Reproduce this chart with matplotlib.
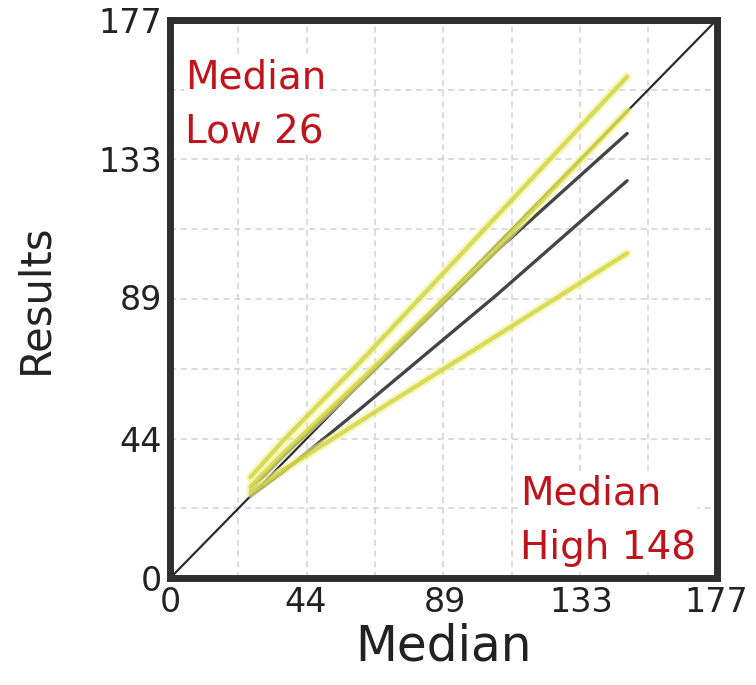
import numpy as np
import matplotlib.pyplot as plt

# x positions of the sampled points (shared by all series)
x_pts = [26, 37, 62, 106, 148]

# yellow series
yellow_1 = [32, 44, 69, 115, 159]
yellow_2 = [29, 40, 63, 105, 148]
yellow_3 = [27, 34.5, 50, 77, 103]

# dark series
dark_1 = [28, 39, 62, 104, 141]
dark_2 = [26, 34, 54, 90, 126]

ticks = [0, 44, 89, 133, 177]
lim = 177

fig = plt.figure(figsize=(7.56, 6.85), dpi=100)
ax = fig.add_axes([0.225, 0.156, 0.723, 0.815])

# grid every eighth of the range
grid_pos = np.linspace(0, lim, 9)
for g in grid_pos[1:-1]:
    ax.axvline(g, color='#d2d2d2', lw=1.1, ls=(0, (4, 3)), zorder=0)
    ax.axhline(g, color='#d2d2d2', lw=1.1, ls=(0, (4, 3)), zorder=0)

# identity line
ax.plot([0, lim], [0, lim], color='#2b2b2b', lw=1.6, zorder=2)

for ys in [dark_1, dark_2]:
    ax.plot(x_pts, ys, color='#454545', lw=2.4, solid_capstyle='round', zorder=3)

for ys in [yellow_1, yellow_2, yellow_3]:
    ax.plot(x_pts, ys, color='#f2f29a', lw=6.5, alpha=0.6, solid_capstyle='round', zorder=4)
    ax.plot(x_pts, ys, color='#cfd43c', lw=3, alpha=0.8, solid_capstyle='round', zorder=5)

ax.set_xlim(0, lim)
ax.set_ylim(0, lim)
ax.set_xticks(ticks)
ax.set_yticks(ticks)
ax.tick_params(length=0, labelsize=24, pad=6, colors='#222222')

for s in ax.spines.values():
    s.set_linewidth(5)
    s.set_color('#2e2e2e')

ax.set_xlabel('Median', fontsize=35, color='#222222', labelpad=2)
ax.set_ylabel('Results', fontsize=30, color='#222222', labelpad=30)

red = '#c0141c'
ax.text(0.028, 0.93, 'Median\nLow 26', transform=ax.transAxes, ha='left', va='top',
        fontsize=28, color=red, linespacing=1.55,
        bbox=dict(facecolor='white', edgecolor='none', pad=1), zorder=6)
ax.text(0.64, 0.185, 'Median\nHigh 148', transform=ax.transAxes, ha='left', va='top',
        fontsize=28, color=red, linespacing=1.55,
        bbox=dict(facecolor='white', edgecolor='none', pad=1), zorder=6)

fig.savefig('out.png', dpi=100)
